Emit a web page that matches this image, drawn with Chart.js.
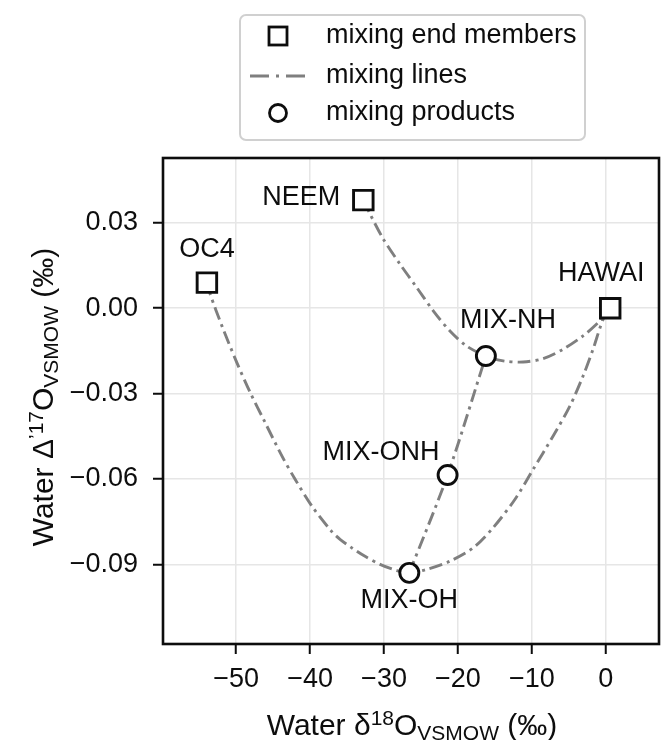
<!DOCTYPE html>
<html>
<head>
<meta charset="utf-8">
<script src="https://cdn.jsdelivr.net/npm/chart.js@4/dist/chart.umd.min.js"></script>
<style>
html,body{margin:0;padding:0;background:#fff;}
#wrap{width:661px;height:740px;}
</style>
</head>
<body>
<div id="wrap"><canvas id="c" width="661" height="740"></canvas></div>
<script>
// ---------------- data ----------------
const xTicks = [-50, -40, -30, -20, -10, 0];
const yTicks = [-0.09, -0.06, -0.03, 0.00, 0.03];

const endMemberNames = ['NEEM', 'OC4', 'HAWAI'];
const endMemberX = [-32.8, -53.96, 0.6];
const endMemberY = [0.038, 0.009, 0.0];

const productNames = ['MIX-NH', 'MIX-ONH', 'MIX-OH'];
const productX = [-16.22, -21.4, -26.58];
const productY = [-0.0168, -0.0586, -0.0930];

// mixing line NEEM -> MIX-NH -> HAWAI
const lineNHX = [-32.8, -31.89, -30.09, -27.84, -25.58, -23.34, -21.08, -18.82, -16.22, -13.88, -11.18, -8.47, -5.77, -3.07, -0.81, 0.6];
const lineNHY = [0.038, 0.0331, 0.0243, 0.0155, 0.0073, -0.0009, -0.0080, -0.0133, -0.0168, -0.0185, -0.0189, -0.0177, -0.0144, -0.0097, -0.0045, 0.0];

// mixing line OC4 -> MIX-OH -> HAWAI
const lineOHX = [-53.96, -53.51, -51.93, -49.91, -48.11, -46.08, -43.82, -42.03, -39.77, -37.07, -35.95, -34.36, -32.57, -30.54, -28.28, -26.58, -24.23, -21.08, -17.93, -15.2, -12.3, -9.82, -7.12, -4.86, -3.07, -1.72, -0.36, 0.6];
const lineOHY = [0.009, 0.0049, -0.0062, -0.0191, -0.0296, -0.0402, -0.0519, -0.0601, -0.0695, -0.0785, -0.0812, -0.0842, -0.0872, -0.0900, -0.0922, -0.0930, -0.0918, -0.0889, -0.0842, -0.0770, -0.0672, -0.0566, -0.0449, -0.0344, -0.0238, -0.0144, -0.0039, 0.0];

// mixing line MIX-OH -> MIX-ONH -> MIX-NH
const lineONHX = [-26.58, -21.4, -16.22];
const lineONHY = [-0.0930, -0.0586, -0.0168];

const legendLabels = ['mixing end members', 'mixing lines', 'mixing products'];

// ---------------- styles ----------------
const FONT = '"Liberation Sans", Arial, Helvetica, sans-serif';
const TEXT_COLOR = '#0d0d0d';
const LINE_COLOR = '#7f7f7f';
const DASH = [13, 5, 3, 5];
const LEGEND_DASH = [19, 7, 3, 7];
// label offsets (pixels) relative to each marker
const labelStyle = {
  'NEEM':    {dx: -23, dy: -3,  align: 'right'},
  'OC4':     {dx: 0,   dy: -33, align: 'center'},
  'HAWAI':   {dx: -9,  dy: -35, align: 'center'},
  'MIX-NH':  {dx: 22,  dy: -35, align: 'center'},
  'MIX-ONH': {dx: -8,  dy: -22, align: 'right'},
  'MIX-OH':  {dx: 0,   dy: 28,  align: 'center'}
};

const zip = (xs, ys) => xs.map((x, i) => ({x: x, y: ys[i]}));
const minus = s => s.replace('-', '\u2212');

function mixLine(xs, ys) {
  return {
    type: 'scatter', data: zip(xs, ys), showLine: true, order: 2,
    borderColor: LINE_COLOR, borderWidth: 2.9, borderDash: DASH,
    pointRadius: 0, pointHoverRadius: 0, tension: 0.3, fill: false
  };
}

// ---------------- plugins ----------------
const framePlugin = {
  id: 'frame',
  beforeDatasetsDraw(chart) {
    const a = chart.chartArea, ctx = chart.ctx;
    ctx.save();
    ctx.strokeStyle = TEXT_COLOR;
    ctx.lineWidth = 2.6;
    ctx.strokeRect(a.left, a.top, a.right - a.left, a.bottom - a.top);
    ctx.restore();
  }
};

const pointLabelPlugin = {
  id: 'pointLabels',
  afterDatasetsDraw(chart) {
    const ctx = chart.ctx, xs = chart.scales.x, ys = chart.scales.y;
    ctx.save();
    ctx.font = '27px ' + FONT;
    ctx.fillStyle = TEXT_COLOR;
    ctx.textBaseline = 'middle';
    const put = (names, X, Y) => names.forEach((n, i) => {
      const st = labelStyle[n];
      ctx.textAlign = st.align;
      ctx.fillText(n, xs.getPixelForValue(X[i]) + st.dx, ys.getPixelForValue(Y[i]) + st.dy);
    });
    put(endMemberNames, endMemberX, endMemberY);
    put(productNames, productX, productY);
    ctx.restore();
  }
};

function drawRich(ctx, parts, x, y) {
  let total = 0;
  parts.forEach(p => { ctx.font = p.s + 'px ' + FONT; p.w = ctx.measureText(p.t).width; total += p.w; });
  let cx = x - total / 2;
  ctx.textAlign = 'left';
  ctx.textBaseline = 'alphabetic';
  parts.forEach(p => { ctx.font = p.s + 'px ' + FONT; ctx.fillText(p.t, cx, y + p.dy); cx += p.w; });
}

const axisTitlePlugin = {
  id: 'axisTitles',
  afterDraw(chart) {
    const ctx = chart.ctx, a = chart.chartArea;
    ctx.save();
    ctx.fillStyle = TEXT_COLOR;
    const xParts = [
      {t: 'Water \u03b4', s: 30, dy: 0}, {t: '18', s: 21, dy: -10},
      {t: 'O', s: 30, dy: 0}, {t: 'VSMOW', s: 21, dy: 5}, {t: ' (\u2030)', s: 30, dy: 0}
    ];
    drawRich(ctx, xParts, (a.left + a.right) / 2 + 1, 735);
    const yParts = [
      {t: 'Water \u0394', s: 30, dy: 0}, {t: '\u201917', s: 21, dy: -10},
      {t: 'O', s: 30, dy: 0}, {t: 'VSMOW', s: 21, dy: 5}, {t: ' (\u2030)', s: 30, dy: 0}
    ];
    ctx.translate(53, 397);
    ctx.rotate(-Math.PI / 2);
    drawRich(ctx, yParts, 0, 0);
    ctx.restore();
  }
};

const legendPlugin = {
  id: 'customLegend',
  afterDraw(chart) {
    const ctx = chart.ctx;
    ctx.save();
    const bx = 240, by = 15, bw = 345, bh = 125, r = 6;
    ctx.beginPath();
    ctx.moveTo(bx + r, by);
    ctx.arcTo(bx + bw, by, bx + bw, by + bh, r);
    ctx.arcTo(bx + bw, by + bh, bx, by + bh, r);
    ctx.arcTo(bx, by + bh, bx, by, r);
    ctx.arcTo(bx, by, bx + bw, by, r);
    ctx.closePath();
    ctx.fillStyle = 'rgba(255,255,255,0.85)';
    ctx.fill();
    ctx.strokeStyle = '#d0d0d0';
    ctx.lineWidth = 2;
    ctx.stroke();
    const rows = [36, 76, 113];
    const mx = 278;
    // square
    ctx.strokeStyle = TEXT_COLOR;
    ctx.lineWidth = 2.8;
    ctx.fillStyle = '#fff';
    ctx.fillRect(mx - 9, rows[0] - 9, 18, 18);
    ctx.strokeRect(mx - 9, rows[0] - 9, 18, 18);
    // line
    ctx.beginPath();
    ctx.setLineDash(LEGEND_DASH);
    ctx.strokeStyle = LINE_COLOR;
    ctx.moveTo(250, rows[1]);
    ctx.lineTo(306, rows[1]);
    ctx.stroke();
    ctx.setLineDash([]);
    // circle
    ctx.beginPath();
    ctx.strokeStyle = TEXT_COLOR;
    ctx.arc(mx, rows[2], 8.5, 0, Math.PI * 2);
    ctx.fill();
    ctx.stroke();
    // text
    ctx.fillStyle = TEXT_COLOR;
    ctx.font = '27px ' + FONT;
    ctx.textAlign = 'left';
    ctx.textBaseline = 'middle';
    legendLabels.forEach((t, i) => ctx.fillText(t, 326, rows[i]));
    ctx.restore();
  }
};

// ---------------- chart ----------------
new Chart(document.getElementById('c'), {
  type: 'scatter',
  data: {
    datasets: [
      {
        label: legendLabels[0], data: zip(endMemberX, endMemberY), order: 0,
        pointStyle: 'rect', pointRadius: 13.8, pointHoverRadius: 13.8,
        pointBackgroundColor: '#fff', pointBorderColor: TEXT_COLOR, pointBorderWidth: 2.9
      },
      {
        label: legendLabels[2], data: zip(productX, productY), order: 0,
        pointStyle: 'circle', pointRadius: 9.5, pointHoverRadius: 9.5,
        pointBackgroundColor: '#fff', pointBorderColor: TEXT_COLOR, pointBorderWidth: 2.9
      },
      mixLine(lineNHX, lineNHY),
      mixLine(lineOHX, lineOHY),
      mixLine(lineONHX, lineONHY)
    ]
  },
  options: {
    responsive: false,
    animation: false,
    devicePixelRatio: 1,
    layout: {autoPadding: false, padding: {top: 158, right: 2, bottom: 0, left: 0}},
    plugins: {legend: {display: false}, tooltip: {enabled: false}},
    scales: {
      x: {
        type: 'linear', position: 'bottom', min: -59.9, max: 7.2,
        afterBuildTicks: s => { s.ticks = xTicks.map(v => ({value: v})); },
        afterFit: s => { s.height = 96; s.paddingLeft = 0; s.paddingRight = 0; },
        border: {display: false},
        grid: {color: '#e6e6e6', lineWidth: 1.5, tickColor: TEXT_COLOR, tickLength: 10, tickWidth: 2},
        ticks: {color: TEXT_COLOR, padding: 9, font: {family: FONT, size: 27},
                callback: v => minus(String(v))}
      },
      y: {
        type: 'linear', position: 'left', min: -0.118, max: 0.0528,
        afterBuildTicks: s => { s.ticks = yTicks.map(v => ({value: v})); },
        afterFit: s => { s.width = 163; s.paddingTop = 0; s.paddingBottom = 0; },
        border: {display: false},
        grid: {color: '#e6e6e6', lineWidth: 1.5, tickColor: TEXT_COLOR, tickLength: 10, tickWidth: 2},
        ticks: {color: TEXT_COLOR, padding: 15, font: {family: FONT, size: 27},
                callback: v => minus((Math.abs(v) < 1e-9 ? 0 : v).toFixed(2))}
      }
    }
  },
  plugins: [framePlugin, pointLabelPlugin, axisTitlePlugin, legendPlugin]
});
</script>
</body>
</html>
